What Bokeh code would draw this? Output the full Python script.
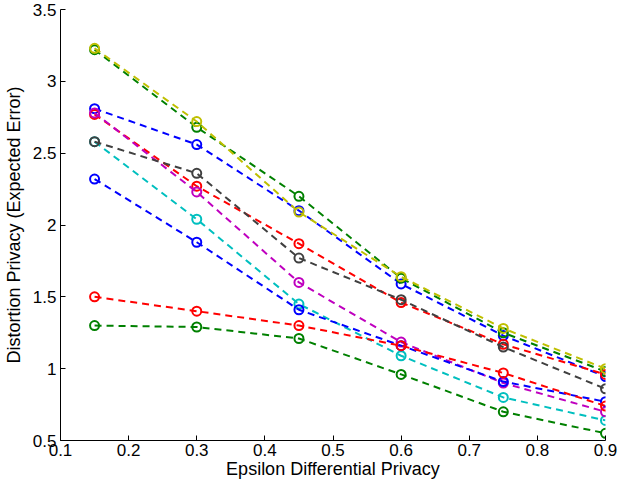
from bokeh.plotting import figure
from bokeh.models import FixedTicker, PrintfTickFormatter, Range1d
from bokeh.embed import file_html
from bokeh.resources import INLINE

# ---- data ----
epsilon = [0.15, 0.30, 0.45, 0.60, 0.75, 0.90]

blue_a = [2.81, 2.56, 2.10, 1.59, 1.23, 0.945]
green_a = [3.22, 2.68, 2.20, 1.63, 1.25, 0.98]
red_a = [2.77, 2.27, 1.87, 1.46, 1.17, 0.96]
cyan_a = [2.58, 2.04, 1.45, 1.09, 0.80, 0.64]
magenta_a = [2.78, 2.23, 1.60, 1.185, 0.90, 0.70]
yellow_a = [3.23, 2.72, 2.09, 1.64, 1.28, 1.00]
gray_a = [2.58, 2.36, 1.77, 1.48, 1.15, 0.86]
blue_b = [2.32, 1.88, 1.41, 1.16, 0.91, 0.77]
green_b = [1.30, 1.29, 1.21, 0.96, 0.70, 0.55]
red_b = [1.50, 1.40, 1.30, 1.16, 0.97, 0.74]

series = [blue_a, green_a, red_a, cyan_a, magenta_a, yellow_a, gray_a, blue_b, green_b, red_b]
colors = ["#0000FF", "#008000", "#FF0000", "#00BFBF", "#BF00BF", "#BFBF00", "#404040",
          "#0000FF", "#008000", "#FF0000"]

x_ticks = [0.1, 0.2, 0.3, 0.4, 0.5, 0.6, 0.7, 0.8, 0.9]
y_ticks = [0.5, 1, 1.5, 2, 2.5, 3, 3.5]
x_title = "Epsilon Differential Privacy"
y_title = "Distortion Privacy (Expected Error)"

FONT = "Liberation Sans"

p = figure(width=618, height=481, output_backend="svg", toolbar_location=None,
           x_range=Range1d(0.1, 0.9), y_range=Range1d(0.5, 3.5),
           min_border_left=56, min_border_right=13, min_border_top=9, min_border_bottom=40)

for ys, c in zip(series, colors):
    p.line(epsilon, ys, line_color=c, line_width=2, line_dash="7 5")
    p.scatter(epsilon, ys, marker="circle", size=9, fill_color=None,
              line_color=c, line_width=2)

p.outline_line_color = None
p.xgrid.visible = False
p.ygrid.visible = False
p.background_fill_color = "white"
p.border_fill_color = "white"

for ax in (p.xaxis[0], p.yaxis[0]):
    ax.major_tick_in = 5
    ax.major_tick_out = 0
    ax.minor_tick_in = 0
    ax.minor_tick_out = 0
    ax.minor_tick_line_color = None
    ax.axis_line_color = "black"
    ax.axis_line_width = 1
    ax.major_tick_line_color = "black"
    ax.major_label_text_font = FONT
    ax.major_label_text_font_size = "17px"
    ax.major_label_text_color = "black"
    ax.axis_label_text_font = FONT
    ax.axis_label_text_font_size = "18px"
    ax.axis_label_text_font_style = "normal"
    ax.axis_label_text_color = "black"
    ax.formatter = PrintfTickFormatter(format="%g")

p.xaxis[0].ticker = FixedTicker(ticks=x_ticks)
p.yaxis[0].ticker = FixedTicker(ticks=y_ticks)
p.xaxis[0].axis_label = x_title
p.yaxis[0].axis_label = y_title
p.xaxis[0].major_label_standoff = 3
p.xaxis[0].axis_label_standoff = 0
p.yaxis[0].major_label_standoff = 4
p.yaxis[0].axis_label_standoff = 6

open("out.html", "w").write(file_html(p, INLINE))
